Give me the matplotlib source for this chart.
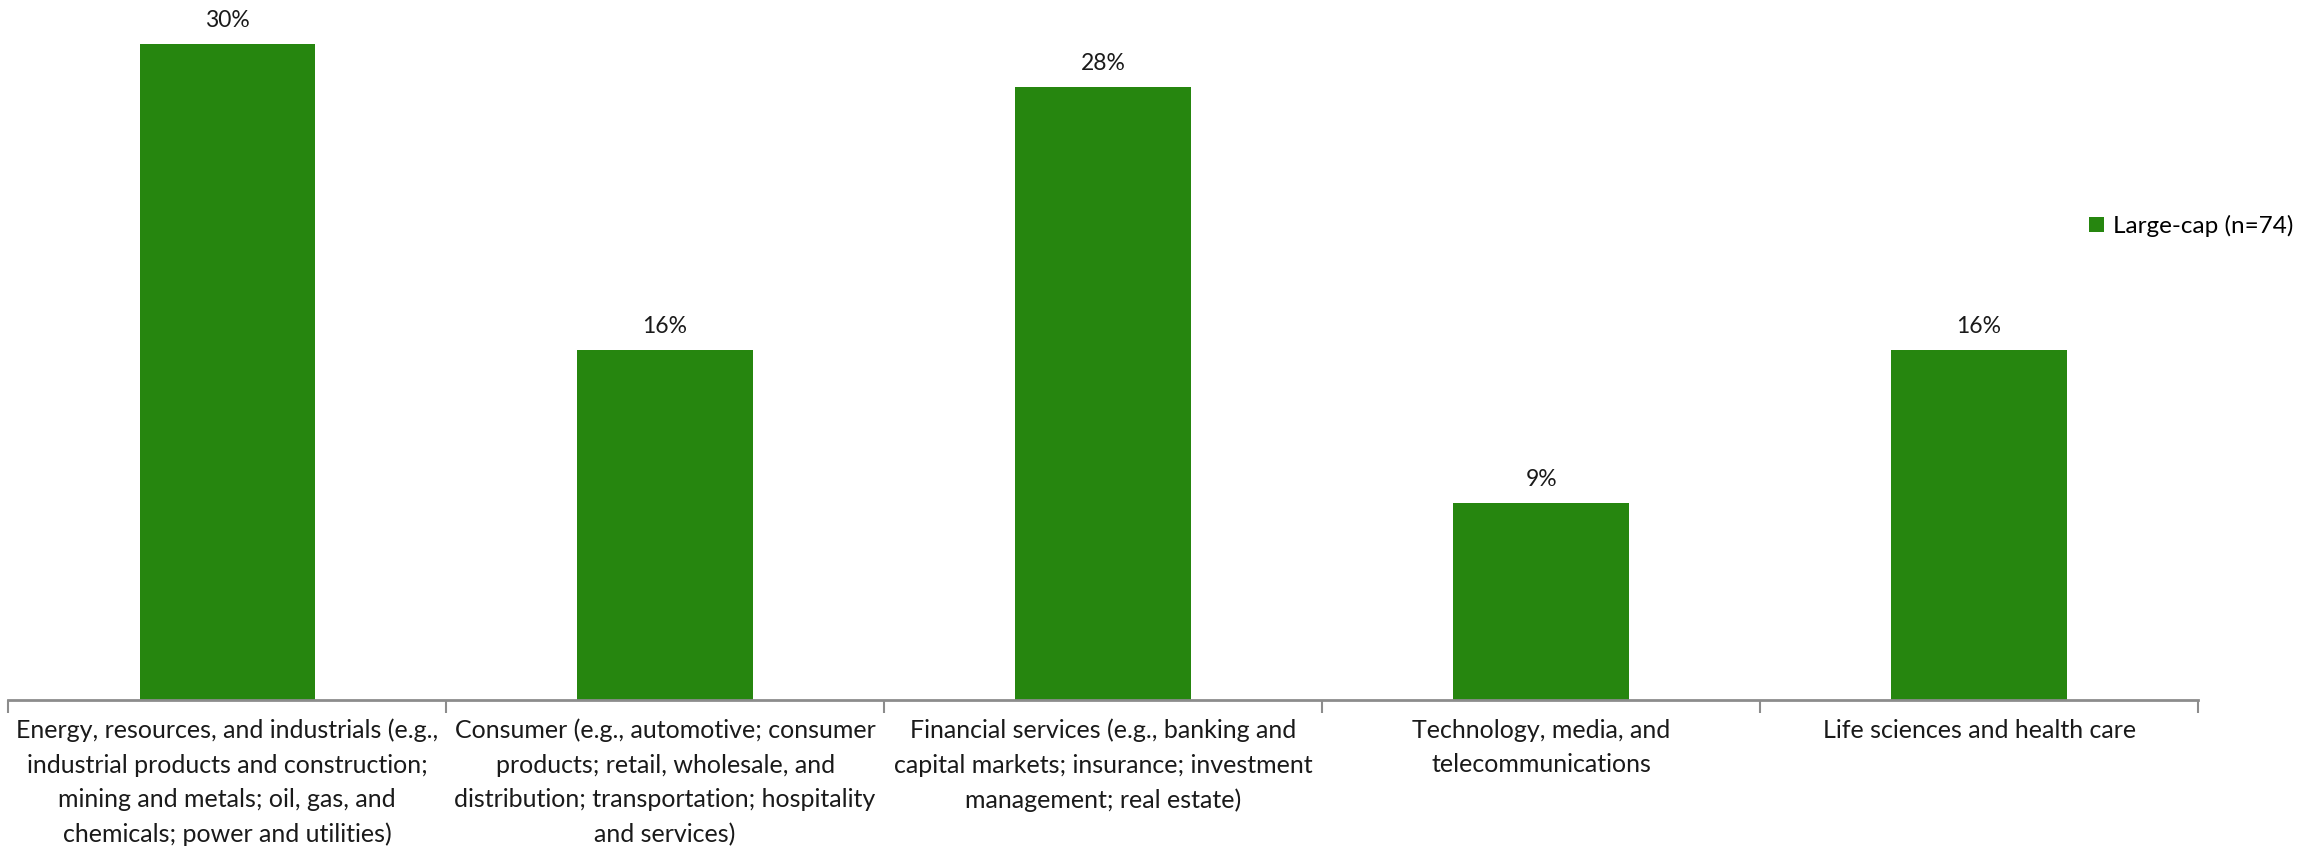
import matplotlib.pyplot as plt
import numpy as np

plt.rcParams['font.family'] = ['Lato', 'DejaVu Sans']

sectors = [
    "Energy, resources, and industrials (e.g.,\nindustrial products and construction;\nmining and metals; oil, gas, and\nchemicals; power and utilities)",
    "Consumer (e.g., automotive; consumer\nproducts; retail, wholesale, and\ndistribution; transportation; hospitality\nand services)",
    "Financial services (e.g., banking and\ncapital markets; insurance; investment\nmanagement; real estate)",
    "Technology, media, and\ntelecommunications",
    "Life sciences and health care",
]
large_cap = [30, 16, 28, 9, 16]
series_name = "Large-cap (n=74)"

green = "#26860f"
axis_grey = "#8c8c8c"

fig = plt.figure(figsize=(23.15, 8.46), dpi=100)
ax = fig.add_axes([0.0035, 0.1726, 0.946, 0.8274])

x = np.arange(len(sectors))
bars = ax.bar(x, large_cap, width=0.40, color=green, label=series_name, zorder=2)

for b, v in zip(bars, large_cap):
    ax.text(b.get_x() + b.get_width() / 2, v + 0.6, f"{v}%",
            ha="center", va="bottom", fontsize=16.5, color="#1a1a1a")

ax.set_xlim(-0.5, len(sectors) - 0.5)
ax.set_ylim(0, 32)

# category labels under the axis, ticks at category borders
ax.set_xticks(np.arange(len(sectors) + 1) - 0.5)
ax.set_xticklabels([])
ax.tick_params(axis="x", length=9, width=1.5, color=axis_grey, direction="out")
for i, s in enumerate(sectors):
    ax.text(i, -0.85, s, ha="center", va="top", fontsize=18,
            color="#1a1a1a", linespacing=1.6)

ax.set_yticks([])
for side in ["top", "right", "left"]:
    ax.spines[side].set_visible(False)
ax.spines["bottom"].set_color(axis_grey)
ax.spines["bottom"].set_linewidth(2)

fig.legend(handles=[bars], labels=[series_name], loc="center left",
           bbox_to_anchor=(0.893, 0.733), frameon=False, fontsize=17.5,
           handlelength=0.6, handleheight=0.6, handletextpad=0.4)

fig.savefig("out.png", dpi=100)
